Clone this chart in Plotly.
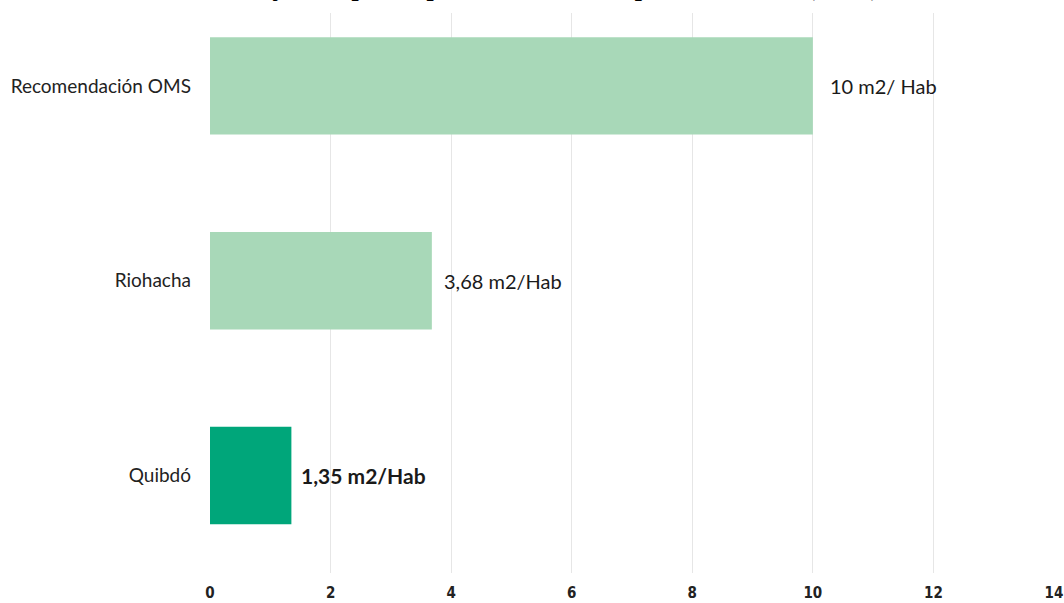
import plotly.graph_objects as go

categories = ["Recomendación OMS", "Riohacha", "Quibdó"]
values = [10, 3.68, 1.35]
value_labels = ["10 m2/ Hab", "3,68 m2/Hab", "<b>1,35 m2/Hab</b>"]
label_sizes = [20, 20, 21]
bar_colors = ["#a8d8b8", "#a8d8b8", "#00a67a"]
x_ticks = [0, 2, 4, 6, 8, 10, 12, 14]
title_text = "Zonas verdes y el espacio público efectivo por habitante (EPE)"

fig = go.Figure()
fig.add_trace(go.Bar(
    y=categories, x=values, orientation="h",
    marker=dict(color=bar_colors, line=dict(width=0)),
    width=0.5, hoverinfo="skip",
))

for cat, val, lab, fs, xs in zip(categories, values, value_labels, label_sizes, [15, 10, 8]):
    fig.add_annotation(
        x=val, y=cat, xref="x", yref="y", text=lab, showarrow=False,
        xanchor="left", xshift=xs,
        font=dict(family="Lato", size=fs, color="#1a1a1a"),
    )

fig.add_annotation(
    x=0.797, y=1, xref="paper", yref="paper", text=title_text, showarrow=False,
    xanchor="right", yanchor="bottom", yshift=10,
    font=dict(family="Liberation Serif", size=31, color="#000000"),
)

fig.update_layout(
    width=1064, height=603,
    margin=dict(l=210, r=10, t=13, b=30),
    paper_bgcolor="white", plot_bgcolor="white",
    showlegend=False,
    xaxis=dict(
        range=[0, 14], tickvals=x_ticks, ticktext=[str(t) for t in x_ticks],
        showgrid=True, gridcolor="#e6e6e6", gridwidth=1,
        zeroline=False, showline=False, ticks="", automargin=False,
        ticklabelstandoff=9, ticklabeloverflow="allow",
        tickfont=dict(family="DejaVu Sans Condensed, Roboto, sans-serif", size=15,
                      color="#222222", weight="bold"),
    ),
    yaxis=dict(
        categoryorder="array", categoryarray=categories, automargin=False,
        range=[2.5, -0.374], showgrid=False, zeroline=False, showline=False,
        ticks="", ticklabelstandoff=18,
        tickfont=dict(family="Lato", size=19, color="#222222"),
    ),
)

fig.write_html("out.html")
